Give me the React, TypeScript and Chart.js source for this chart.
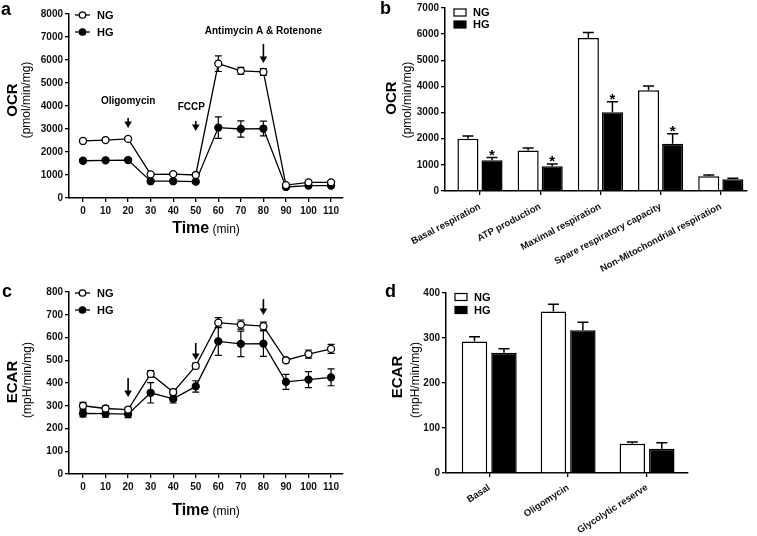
import React, { useEffect, useRef } from 'react';
import { Chart, registerables } from 'chart.js';

Chart.register(...registerables);

const FONT = '"Liberation Sans", Arial, Helvetica, sans-serif';
Chart.defaults.font.family = FONT;
Chart.defaults.color = '#111';

// ---------------- data ----------------
const timePoints = [0, 10, 20, 30, 40, 50, 60, 70, 80, 90, 100, 110];

const ocrNG = [2480, 2520, 2570, 1030, 1040, 1000, 5840, 5530, 5480, 560, 680, 680];
const ocrNGErr = [70, 60, 70, 50, 50, 50, 340, 150, 150, 40, 40, 40];
const ocrHG = [1620, 1640, 1650, 730, 730, 710, 3060, 3000, 3020, 480, 540, 540];
const ocrHGErr = [60, 60, 60, 40, 40, 40, 470, 350, 320, 50, 40, 40];

const ecarNG = [300, 288, 283, 440, 360, 475, 665, 657, 650, 500, 527, 550];
const ecarNGErr = [15, 10, 10, 14, 12, 12, 22, 20, 18, 10, 18, 20];
const ecarHG = [266, 265, 263, 357, 330, 385, 583, 572, 573, 405, 415, 425];
const ecarHGErr = [15, 15, 15, 45, 18, 25, 62, 56, 56, 33, 35, 37];

const injectionTimes = [20, 50, 80];
const ocrInjectionLabels = ['Oligomycin', 'FCCP', 'Antimycin A & Rotenone'];
const ocrLabelX = [20, 48, 80];
const ocrLabelY = [4220, 3960, 7260];
const ocrArrowTop = [3480, 3350, 6700];
const ocrArrowTip = [3040, 2910, 5870];
const ecarArrowTop = [422, 576, 769];
const ecarArrowTip = [338, 501, 699];

const ocrBarCategories = ['Basal respiration', 'ATP production', 'Maximal respiration', 'Spare respiratory capacity', 'Non-Mitochondrial respiration'];
const ocrBarNG = [2000, 1545, 5850, 3850, 560];
const ocrBarNGErr = [100, 100, 215, 170, 50];
const ocrBarHG = [1180, 950, 3010, 1810, 450];
const ocrBarHGErr = [100, 80, 405, 380, 40];
const ocrBarSignificant = [true, true, true, true, false];

const ecarBarCategories = ['Basal', 'Oligomycin', 'Glycolytic reserve'];
const ecarBarNG = [292, 359, 65];
const ecarBarNGErr = [11, 16, 4];
const ecarBarHG = [267, 317, 54];
const ecarBarHGErr = [9, 18, 13];

const seriesNames = ['NG', 'HG'];

// ---------------- helpers ----------------
const TICK_FONT: any = { family: FONT, size: 10, weight: 'bold' };
const CAT_FONT: any = { family: FONT, size: 9.5, weight: 'bold' };

function axisBase(z = 0): any {
  return {
    z,
    border: { display: true, color: '#000', width: 1.5 },
    grid: {
      display: true,
      drawOnChartArea: false,
      drawTicks: true,
      tickLength: 4,
      color: '#000',
      lineWidth: 1.3,
      offset: false,
    },
  };
}

function txt(ctx: CanvasRenderingContext2D, s: string, x: number, y: number, font: string, align: CanvasTextAlign = 'left', baseline: CanvasTextBaseline = 'alphabetic') {
  ctx.save();
  ctx.font = font;
  ctx.fillStyle = '#000';
  ctx.textAlign = align;
  ctx.textBaseline = baseline;
  ctx.fillText(s, x, y);
  ctx.restore();
}

function vtxt(ctx: CanvasRenderingContext2D, s: string, cx: number, cy: number, font: string) {
  ctx.save();
  ctx.translate(cx, cy);
  ctx.rotate(-Math.PI / 2);
  ctx.font = font;
  ctx.fillStyle = '#000';
  ctx.textAlign = 'center';
  ctx.textBaseline = 'middle';
  ctx.fillText(s, 0, 0);
  ctx.restore();
}

function arrow(ctx: CanvasRenderingContext2D, x: number, y1: number, y2: number) {
  const head = 6.5;
  const hw = 3.8;
  ctx.save();
  ctx.strokeStyle = '#000';
  ctx.fillStyle = '#000';
  ctx.lineWidth = 1.6;
  ctx.beginPath();
  ctx.moveTo(x, y1);
  ctx.lineTo(x, y2 - head + 1);
  ctx.stroke();
  ctx.beginPath();
  ctx.moveTo(x - hw, y2 - head);
  ctx.lineTo(x + hw, y2 - head);
  ctx.lineTo(x, y2);
  ctx.closePath();
  ctx.fill();
  ctx.restore();
}

function timeTitle(ctx: CanvasRenderingContext2D, cx: number, baseline: number) {
  const f1 = `bold 16px ${FONT}`;
  const f2 = `12px ${FONT}`;
  ctx.save();
  ctx.font = f1;
  const w1 = ctx.measureText('Time').width;
  ctx.font = f2;
  const w2 = ctx.measureText(' (min)').width;
  ctx.restore();
  const x0 = cx - (w1 + w2) / 2;
  txt(ctx, 'Time', x0, baseline, f1);
  txt(ctx, ' (min)', x0 + w1, baseline, f2);
}

function lineLegend(ctx: CanvasRenderingContext2D, x: number, y: number, label: string, filled: boolean) {
  ctx.save();
  ctx.strokeStyle = '#000';
  ctx.lineWidth = 1.3;
  ctx.beginPath();
  ctx.moveTo(x, y);
  ctx.lineTo(x + 15, y);
  ctx.stroke();
  ctx.beginPath();
  ctx.arc(x + 7.5, y, 3.2, 0, Math.PI * 2);
  ctx.fillStyle = filled ? '#000' : '#fff';
  ctx.fill();
  ctx.stroke();
  ctx.restore();
  txt(ctx, label, x + 22, y + 0.5, `bold 11px ${FONT}`, 'left', 'middle');
}

function boxLegend(ctx: CanvasRenderingContext2D, x: number, y: number, label: string, filled: boolean) {
  ctx.save();
  ctx.fillStyle = filled ? '#000' : '#fff';
  ctx.strokeStyle = '#000';
  ctx.lineWidth = 1.2;
  ctx.fillRect(x, y - 3.5, 12, 7);
  ctx.strokeRect(x, y - 3.5, 12, 7);
  ctx.restore();
  txt(ctx, label, x + 19, y + 0.5, `bold 11px ${FONT}`, 'left', 'middle');
}

function lineErrors(c: any, vals: number[], errs: number[]) {
  const ctx = c.ctx as CanvasRenderingContext2D;
  const xs = c.scales.x;
  const ys = c.scales.y;
  ctx.save();
  ctx.strokeStyle = '#000';
  ctx.lineWidth = 1.2;
  timePoints.forEach((t, i) => {
    const x = xs.getPixelForValue(t);
    const top = ys.getPixelForValue(vals[i] + errs[i]);
    const bot = ys.getPixelForValue(vals[i] - errs[i]);
    ctx.beginPath();
    ctx.moveTo(x, top);
    ctx.lineTo(x, bot);
    ctx.moveTo(x - 3.5, top);
    ctx.lineTo(x + 3.5, top);
    ctx.moveTo(x - 3.5, bot);
    ctx.lineTo(x + 3.5, bot);
    ctx.stroke();
  });
  ctx.restore();
}

function barErrors(c: any, dsIndex: number, vals: number[], errs: number[]) {
  const ctx = c.ctx as CanvasRenderingContext2D;
  const ys = c.scales.y;
  const meta = c.getDatasetMeta(dsIndex);
  ctx.save();
  ctx.strokeStyle = '#000';
  ctx.lineWidth = 1.5;
  meta.data.forEach((el: any, i: number) => {
    const x = el.x;
    const top = ys.getPixelForValue(vals[i] + errs[i]);
    const bot = ys.getPixelForValue(vals[i]);
    ctx.beginPath();
    ctx.moveTo(x, bot);
    ctx.lineTo(x, top);
    ctx.moveTo(x - 5.5, top);
    ctx.lineTo(x + 5.5, top);
    ctx.stroke();
  });
  ctx.restore();
}

// ---------------- chart configs ----------------
function lineConfig(p: any): any {
  const mk = (vals: number[]) => timePoints.map((t, i) => ({ x: t, y: vals[i] }));
  const ds = (label: string, vals: number[], filled: boolean) => ({
    label,
    data: mk(vals),
    borderColor: '#000',
    backgroundColor: filled ? '#000' : '#fff',
    borderWidth: 1.3,
    pointRadius: 3.5,
    pointBorderWidth: 1.3,
    pointBackgroundColor: filled ? '#000' : '#fff',
    pointBorderColor: '#000',
    tension: 0,
    fill: false,
  });
  return {
    type: 'line',
    data: { datasets: [ds(seriesNames[0], p.ng, false), ds(seriesNames[1], p.hg, true)] },
    options: {
      responsive: false,
      animation: false,
      events: [],
      layout: { padding: { top: p.padTop, right: p.padRight, left: 0, bottom: 0 } },
      plugins: { legend: { display: false }, tooltip: { enabled: false }, title: { display: false } },
      scales: {
        x: {
          ...axisBase(),
          type: 'linear',
          min: p.xMin,
          max: p.xMax,
          offset: false,
          afterBuildTicks: (s: any) => {
            s.ticks = timePoints.map((v) => ({ value: v }));
          },
          afterFit: (s: any) => {
            s.height = p.xAxisHeight;
          },
          ticks: { autoSkip: false, maxRotation: 0, minRotation: 0, padding: 3, color: '#111', font: TICK_FONT, callback: (v: any) => String(v) },
        },
        y: {
          ...axisBase(),
          type: 'linear',
          min: 0,
          max: p.yMax,
          afterFit: (s: any) => {
            s.width = p.yAxisWidth;
          },
          ticks: { stepSize: p.yStep, padding: 2, color: '#111', font: TICK_FONT, callback: (v: any) => String(v) },
        },
      },
    },
    plugins: [
      {
        id: 'extrasLine',
        beforeDatasetsDraw: (c: any) => {
          lineErrors(c, p.ng, p.ngErr);
          lineErrors(c, p.hg, p.hgErr);
        },
        afterDraw: (c: any) => p.over(c, c.ctx),
      },
    ],
  };
}

function barConfig(p: any): any {
  const mk = (vals: number[]) => p.cats.map((_: string, i: number) => ({ x: i, y: vals[i] }));
  const ds = (label: string, vals: number[], filled: boolean) => ({
    label,
    data: mk(vals),
    backgroundColor: filled ? '#000' : '#fff',
    borderColor: '#000',
    borderWidth: 1.5,
    borderSkipped: 'start',
    barPercentage: p.bp,
    categoryPercentage: p.cp,
  });
  return {
    type: 'bar',
    data: { datasets: [ds(seriesNames[0], p.ng, false), ds(seriesNames[1], p.hg, true)] },
    options: {
      responsive: false,
      animation: false,
      events: [],
      layout: { padding: { top: p.padTop, right: p.padRight, left: 0, bottom: 0 } },
      plugins: { legend: { display: false }, tooltip: { enabled: false }, title: { display: false } },
      scales: {
        x: {
          ...axisBase(1),
          type: 'linear',
          min: p.xMin,
          max: p.xMax,
          offset: false,
          afterBuildTicks: (s: any) => {
            s.ticks = p.cats.map((_: string, i: number) => ({ value: i }));
          },
          afterFit: (s: any) => {
            s.height = p.xAxisHeight;
          },
          ticks: {
            autoSkip: false,
            maxRotation: p.rot,
            minRotation: p.rot,
            padding: p.labelPad,
            color: '#111',
            font: CAT_FONT,
            callback: (v: any) => p.cats[v] ?? '',
          },
        },
        y: {
          ...axisBase(1),
          type: 'linear',
          min: 0,
          max: p.yMax,
          afterFit: (s: any) => {
            s.width = p.yAxisWidth;
          },
          ticks: { stepSize: p.yStep, padding: 2, color: '#111', font: TICK_FONT, callback: (v: any) => String(v) },
        },
      },
    },
    plugins: [
      {
        id: 'extrasBar',
        afterDatasetsDraw: (c: any) => {
          barErrors(c, 0, p.ng, p.ngErr);
          barErrors(c, 1, p.hg, p.hgErr);
        },
        afterDraw: (c: any) => p.over(c, c.ctx),
      },
    ],
  };
}

const TITLE_FONT = `bold 15px ${FONT}`;
const UNIT_FONT = `12px ${FONT}`;
const LETTER_FONT = `bold 18px ${FONT}`;
const NOTE_FONT = `bold 10px ${FONT}`;

const panelA = () =>
  lineConfig({
    ng: ocrNG, ngErr: ocrNGErr, hg: ocrHG, hgErr: ocrHGErr,
    yMax: 8000, yStep: 1000, xMin: -6.21, xMax: 115.3,
    yAxisWidth: 69, xAxisHeight: 50, padTop: 14, padRight: 35,
    over: (c: any, ctx: CanvasRenderingContext2D) => {
      const ca = c.chartArea;
      const xs = c.scales.x;
      const ys = c.scales.y;
      txt(ctx, 'a', 1, 15, LETTER_FONT);
      vtxt(ctx, 'OCR', 12.5, 100, TITLE_FONT);
      vtxt(ctx, '(pmol/min/mg)', 27, 100, UNIT_FONT);
      timeTitle(ctx, (ca.left + ca.right) / 2, ca.bottom + 35);
      lineLegend(ctx, ca.left + 6, ca.top + 1, seriesNames[0], false);
      lineLegend(ctx, ca.left + 6, ca.top + 18, seriesNames[1], true);
      injectionTimes.forEach((t, i) => {
        arrow(ctx, xs.getPixelForValue(t), ys.getPixelForValue(ocrArrowTop[i]), ys.getPixelForValue(ocrArrowTip[i]));
        txt(ctx, ocrInjectionLabels[i], xs.getPixelForValue(ocrLabelX[i]), ys.getPixelForValue(ocrLabelY[i]), NOTE_FONT, 'center', 'middle');
      });
    },
  });

const panelC = () =>
  lineConfig({
    ng: ecarNG, ngErr: ecarNGErr, hg: ecarHG, hgErr: ecarHGErr,
    yMax: 800, yStep: 100, xMin: -6.21, xMax: 115.3,
    yAxisWidth: 69, xAxisHeight: 62, padTop: 42, padRight: 35,
    over: (c: any, ctx: CanvasRenderingContext2D) => {
      const ca = c.chartArea;
      const xs = c.scales.x;
      const ys = c.scales.y;
      txt(ctx, 'c', 2, 47, LETTER_FONT);
      vtxt(ctx, 'ECAR', 12.5, 132, TITLE_FONT);
      vtxt(ctx, '(mpH/min/mg)', 28, 130, UNIT_FONT);
      timeTitle(ctx, (ca.left + ca.right) / 2, ca.bottom + 41);
      lineLegend(ctx, ca.left + 6, ca.top + 1, seriesNames[0], false);
      lineLegend(ctx, ca.left + 6, ca.top + 18, seriesNames[1], true);
      injectionTimes.forEach((t, i) => {
        arrow(ctx, xs.getPixelForValue(t), ys.getPixelForValue(ecarArrowTop[i]), ys.getPixelForValue(ecarArrowTip[i]));
      });
    },
  });

const panelB = () =>
  barConfig({
    cats: ocrBarCategories, ng: ocrBarNG, ngErr: ocrBarNGErr, hg: ocrBarHG, hgErr: ocrBarHGErr,
    yMax: 7000, yStep: 1000, xMin: -0.581, xMax: 4.435, rot: 28, bp: 0.875, cp: 0.8, labelPad: 6,
    yAxisWidth: 67, xAxisHeight: 99, padTop: 7, padRight: 10,
    over: (c: any, ctx: CanvasRenderingContext2D) => {
      const ca = c.chartArea;
      const ys = c.scales.y;
      txt(ctx, 'b', 2, 14, LETTER_FONT);
      vtxt(ctx, 'OCR', 14, 98, TITLE_FONT);
      vtxt(ctx, '(pmol/min/mg)', 30, 100, UNIT_FONT);
      boxLegend(ctx, ca.left + 9, ca.top + 4.5, seriesNames[0], false);
      boxLegend(ctx, ca.left + 9, ca.top + 16.5, seriesNames[1], true);
      const meta = c.getDatasetMeta(1);
      ocrBarSignificant.forEach((sig, i) => {
        if (!sig) return;
        const top = ys.getPixelForValue(ocrBarHG[i] + ocrBarHGErr[i]);
        txt(ctx, '*', meta.data[i].x, top + 2, `bold 15px ${FONT}`, 'center', 'alphabetic');
      });
    },
  });

const panelD = () =>
  barConfig({
    cats: ecarBarCategories, ng: ecarBarNG, ngErr: ecarBarNGErr, hg: ecarBarHG, hgErr: ecarBarHGErr,
    yMax: 400, yStep: 100, xMin: -0.548, xMax: 2.519, rot: 33, bp: 0.864, cp: 0.747, labelPad: 5,
    yAxisWidth: 68, xAxisHeight: 63, padTop: 25, padRight: 69,
    over: (c: any, ctx: CanvasRenderingContext2D) => {
      const ca = c.chartArea;
      txt(ctx, 'd', 7, 29, LETTER_FONT);
      vtxt(ctx, 'ECAR', 20, 109, TITLE_FONT);
      vtxt(ctx, '(mpH/min/mg)', 38, 112, UNIT_FONT);
      boxLegend(ctx, ca.left + 9, ca.top + 4, seriesNames[0], false);
      boxLegend(ctx, ca.left + 9, ca.top + 17, seriesNames[1], true);
    },
  });

function Panel(props: { left: number; top: number; width: number; height: number; build: () => any }) {
  const ref = useRef<HTMLCanvasElement>(null);
  useEffect(() => {
    const chart = new Chart(ref.current as HTMLCanvasElement, props.build());
    return () => chart.destroy();
  }, []);
  return (
    <canvas
      ref={ref}
      width={props.width}
      height={props.height}
      style={{ position: 'absolute', left: props.left, top: props.top, width: props.width, height: props.height }}
    />
  );
}

export default function App() {
  return (
    <div style={{ position: 'absolute', left: 0, top: 0, width: 757, height: 536, background: '#fff', overflow: 'hidden' }}>
      <Panel left={0} top={0} width={378} height={248} build={panelA} />
      <Panel left={0} top={250} width={378} height={286} build={panelC} />
      <Panel left={378} top={268} width={379} height={268} build={panelD} />
      <Panel left={378} top={0} width={379} height={290} build={panelB} />
    </div>
  );
}
